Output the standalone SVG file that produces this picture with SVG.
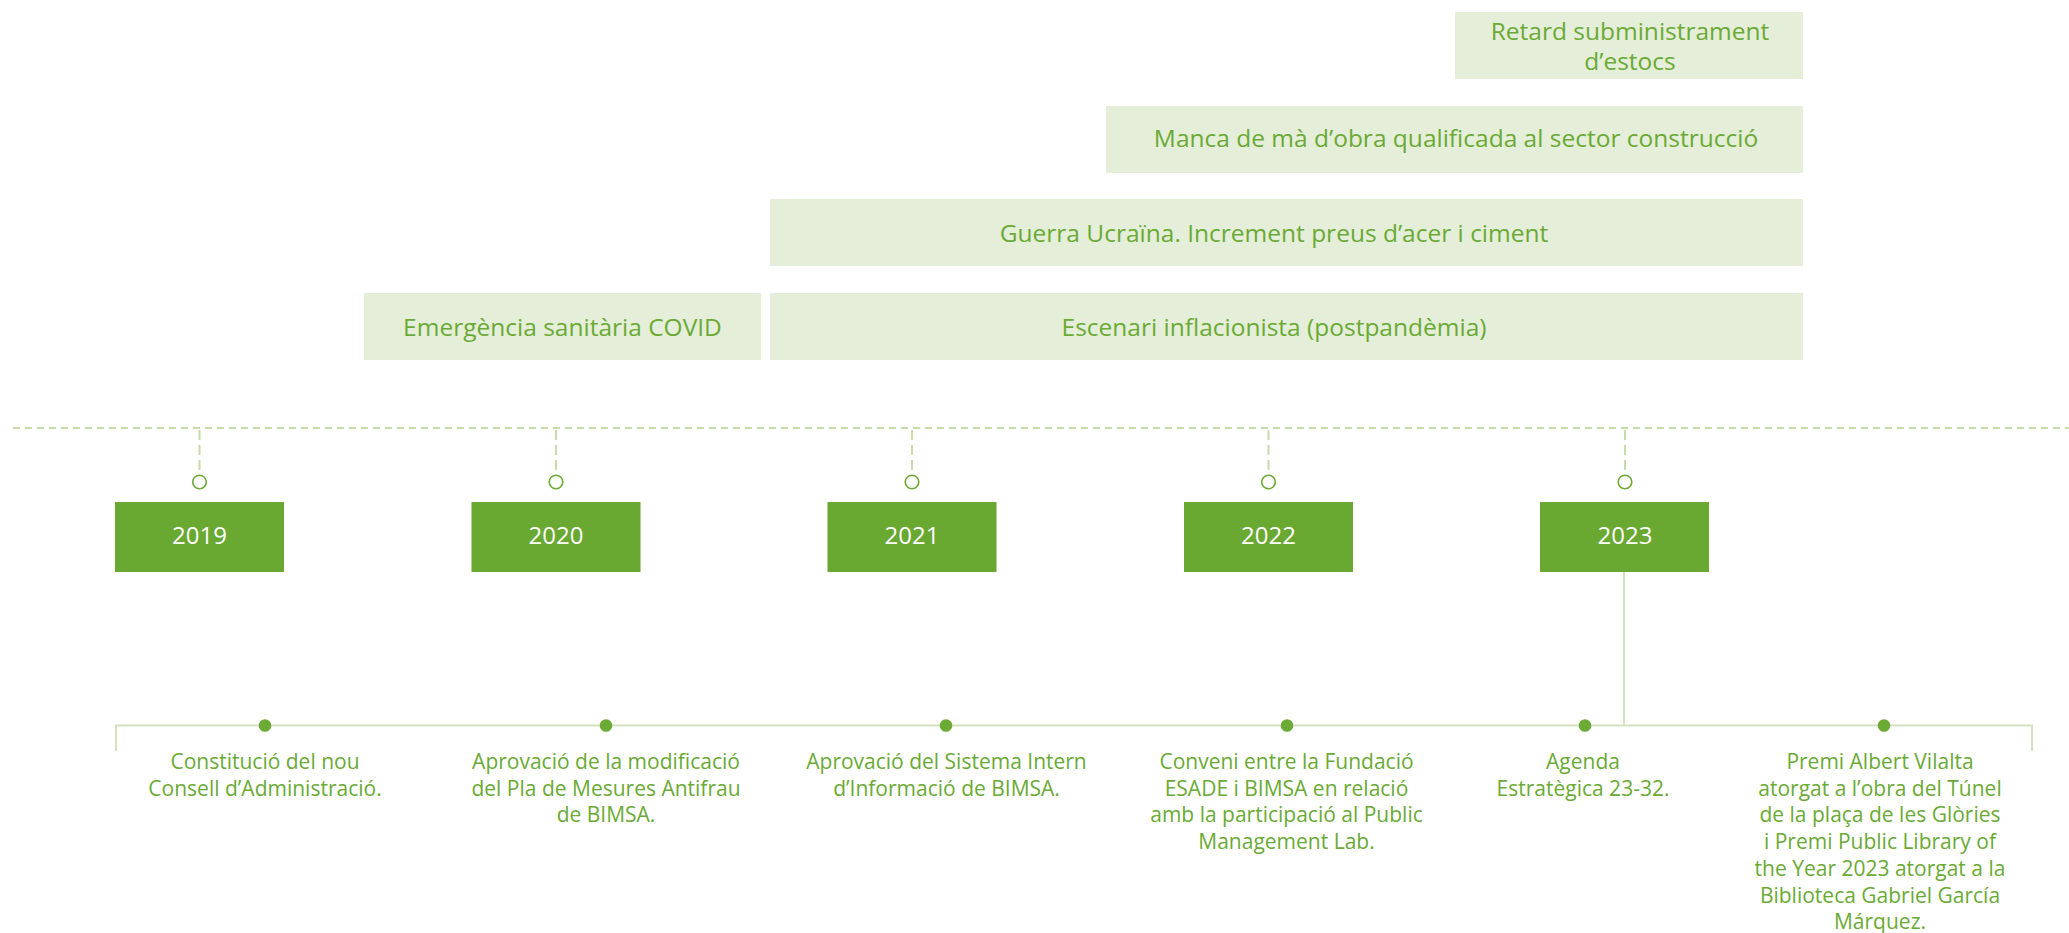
<svg xmlns="http://www.w3.org/2000/svg" width="2069" height="933" viewBox="0 0 2069 933">
<style>
.bar{fill:#e5eed8}
.bt{font-family:"Open Sans","Liberation Sans",sans-serif;font-size:24.5px;fill:#6aaa35;text-anchor:middle}
.yb{fill:#69a831}
.yt{font-family:"Open Sans","Liberation Sans",sans-serif;font-size:24px;fill:#ffffff;text-anchor:middle}
.dl{stroke:#c8dcab;stroke-width:2;stroke-dasharray:7 5;fill:none}
.vl{stroke:#c8dcab;stroke-width:2;stroke-dasharray:10 5;fill:none}
.ring{fill:#ffffff;stroke:#6aaa35;stroke-width:1.6}
.sl{stroke:#d3e2bd;stroke-width:2;fill:none}
.dot{fill:#6aaa35}
.et{font-family:"Open Sans","Liberation Sans",sans-serif;font-size:21px;fill:#6aaa35;text-anchor:middle}
</style>
<g id="bars">
<g id="bar-retard"><rect class="bar" x="1455" y="12" width="348" height="67"/><text class="bt" x="1630" y="40">Retard subministrament</text><text class="bt" x="1630" y="70">d’estocs</text></g>
<g id="bar-manca"><rect class="bar" x="1106" y="106" width="697" height="67"/><text class="bt" x="1456" y="147">Manca de mà d’obra qualificada al sector construcció</text></g>
<g id="bar-guerra"><rect class="bar" x="770" y="199" width="1033" height="67"/><text class="bt" x="1274" y="242">Guerra Ucraïna. Increment preus d’acer i ciment</text></g>
<g id="bar-covid"><rect class="bar" x="364" y="293" width="397" height="67"/><text class="bt" x="562.5" y="336">Emergència sanitària COVID</text></g>
<g id="bar-escenari"><rect class="bar" x="770" y="293" width="1033" height="67"/><text class="bt" x="1274" y="336">Escenari inflacionista (postpandèmia)</text></g>
</g>
<g id="connectors">
<line class="dl" x1="13" y1="428" x2="2069" y2="428"/>
<line class="vl" x1="199.5" y1="430" x2="199.5" y2="474"/>
<line class="vl" x1="556" y1="430" x2="556" y2="474"/>
<line class="vl" x1="912" y1="430" x2="912" y2="474"/>
<line class="vl" x1="1268.5" y1="430" x2="1268.5" y2="474"/>
<line class="vl" x1="1625" y1="430" x2="1625" y2="474"/>
<circle class="ring" cx="199.5" cy="482" r="6.8"/>
<circle class="ring" cx="556" cy="482" r="6.8"/>
<circle class="ring" cx="912" cy="482" r="6.8"/>
<circle class="ring" cx="1268.5" cy="482" r="6.8"/>
<circle class="ring" cx="1625" cy="482" r="6.8"/>
<line class="sl" x1="1624" y1="572" x2="1624" y2="725.5"/>
<polyline class="sl" points="116,751 116,725.5 2032,725.5 2032,751"/>
<circle class="dot" cx="265" cy="725.5" r="6.3"/>
<circle class="dot" cx="606" cy="725.5" r="6.3"/>
<circle class="dot" cx="946" cy="725.5" r="6.3"/>
<circle class="dot" cx="1287" cy="725.5" r="6.3"/>
<circle class="dot" cx="1585" cy="725.5" r="6.3"/>
<circle class="dot" cx="1884" cy="725.5" r="6.3"/>
</g>
<g id="year-2019"><rect class="yb" x="115" y="502" width="169" height="70"/><text class="yt" x="199.5" y="543.5">2019</text></g>
<g id="year-2020"><rect class="yb" x="471.5" y="502" width="169" height="70"/><text class="yt" x="556" y="543.5">2020</text></g>
<g id="year-2021"><rect class="yb" x="827.5" y="502" width="169" height="70"/><text class="yt" x="912" y="543.5">2021</text></g>
<g id="year-2022"><rect class="yb" x="1184" y="502" width="169" height="70"/><text class="yt" x="1268.5" y="543.5">2022</text></g>
<g id="year-2023"><rect class="yb" x="1540" y="502" width="169" height="70"/><text class="yt" x="1625" y="543.5">2023</text></g>
<g id="event-1"><text class="et" x="265" y="769">Constitució del nou</text><text class="et" x="265" y="795.7">Consell d’Administració.</text></g>
<g id="event-2"><text class="et" x="606" y="769">Aprovació de la modificació</text><text class="et" x="606" y="795.7">del Pla de Mesures Antifrau</text><text class="et" x="606" y="822.4">de BIMSA.</text></g>
<g id="event-3"><text class="et" x="946.5" y="769">Aprovació del Sistema Intern</text><text class="et" x="946.5" y="795.7">d’Informació de BIMSA.</text></g>
<g id="event-4"><text class="et" x="1286.5" y="769">Conveni entre la Fundació</text><text class="et" x="1286.5" y="795.7">ESADE i BIMSA en relació</text><text class="et" x="1286.5" y="822.4">amb la participació al Public</text><text class="et" x="1286.5" y="849.1">Management Lab.</text></g>
<g id="event-5"><text class="et" x="1583" y="769">Agenda</text><text class="et" x="1583" y="795.7">Estratègica 23-32.</text></g>
<g id="event-6"><text class="et" x="1880" y="769">Premi Albert Vilalta</text><text class="et" x="1880" y="795.7">atorgat a l’obra del Túnel</text><text class="et" x="1880" y="822.4">de la plaça de les Glòries</text><text class="et" x="1880" y="849.1">i Premi Public Library of</text><text class="et" x="1880" y="875.8">the Year 2023 atorgat a la</text><text class="et" x="1880" y="902.5">Biblioteca Gabriel García</text><text class="et" x="1880" y="929.2">Márquez.</text></g>
</svg>
